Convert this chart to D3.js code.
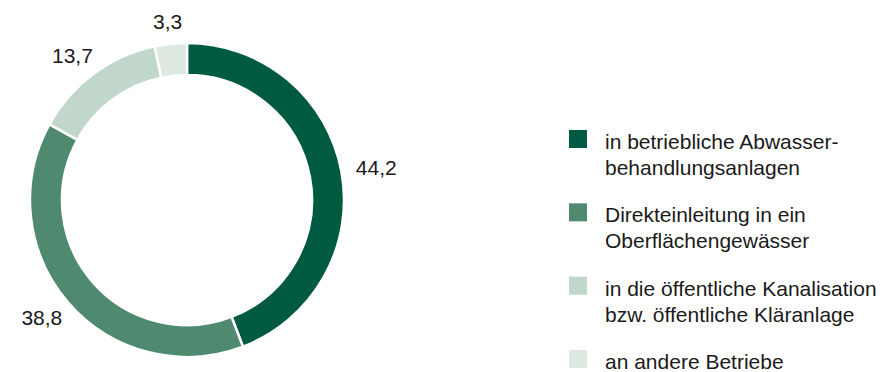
<!DOCTYPE html>
<html>
<head>
<meta charset="utf-8">
<script src="https://cdn.jsdelivr.net/npm/d3@7"></script>
<style>
  body { margin: 0; background: #fff; }
  svg { display: block; }
  text { font-family: "Liberation Sans", Arial, sans-serif; fill: #1a1a1a; }
</style>
</head>
<body>
<div id="chart"></div>
<script>
// Anteile in Prozent
var categories = [
	["in betriebliche Abwasser-", "behandlungsanlagen"],
	["Direkteinleitung in ein", "Oberflächengewässer"],
	["in die öffentliche Kanalisation", "bzw. öffentliche Kläranlage"],
	["an andere Betriebe"]
];
var values = [44.2, 38.8, 13.7, 3.3];
var valueLabels = ["44,2", "38,8", "13,7", "3,3"];
var colors = ["#005a41", "#4f8a70", "#c2d7cc", "#dde8e1"];

var width = 893, height = 372;
var cx = 187, cy = 200;
var outerR = 157, innerR = 125;

var svg = d3.select("#chart").append("svg")
	.attr("width", width)
	.attr("height", height);

var pie = d3.pie().sort(null).value(function(d) { return d; });
var arcs = pie(values);

var arc = d3.arc().innerRadius(innerR).outerRadius(outerR);

var g = svg.append("g").attr("transform", "translate(" + cx + "," + cy + ")");

g.selectAll("path")
	.data(arcs)
	.enter()
	.append("path")
	.attr("d", arc)
	.attr("fill", function(d, i) { return colors[i]; })
	.attr("stroke", "#fff")
	.attr("stroke-width", 2.5);

// Werte aussen am Ring
var labelR = 172;
var fs = 21;
g.selectAll(".val")
	.data(arcs)
	.enter()
	.append("text")
	.attr("class", "val")
	.attr("font-size", fs)
	.text(function(d, i) { return valueLabels[i]; })
	.each(function(d) {
		var a = (d.startAngle + d.endAngle) / 2;
		var w = this.getComputedTextLength();
		var h = 15;
		var px = Math.sin(a) * labelR + Math.sin(a) * w / 2;
		var py = -Math.cos(a) * labelR - Math.cos(a) * h / 2;
		d3.select(this)
			.attr("x", px)
			.attr("y", py + h / 2)
			.attr("text-anchor", "middle");
	});

// Legende
var legY = d3.scaleLinear().domain([0, 3]).range([139, 359]);
var leg = svg.selectAll(".leg")
	.data(categories)
	.enter()
	.append("g")
	.attr("class", "leg")
	.attr("transform", function(d, i) { return "translate(569," + legY(i) + ")"; });

leg.append("rect")
	.attr("x", 0)
	.attr("y", -9)
	.attr("width", 18)
	.attr("height", 18)
	.attr("fill", function(d, i) { return colors[i]; });

leg.append("text")
	.attr("font-size", fs)
	.selectAll("tspan")
	.data(function(d) { return d; })
	.enter()
	.append("tspan")
	.attr("x", 36)
	.attr("y", function(d, j) { return 10 + j * 26; })
	.text(function(d) { return d; });
</script>
</body>
</html>
